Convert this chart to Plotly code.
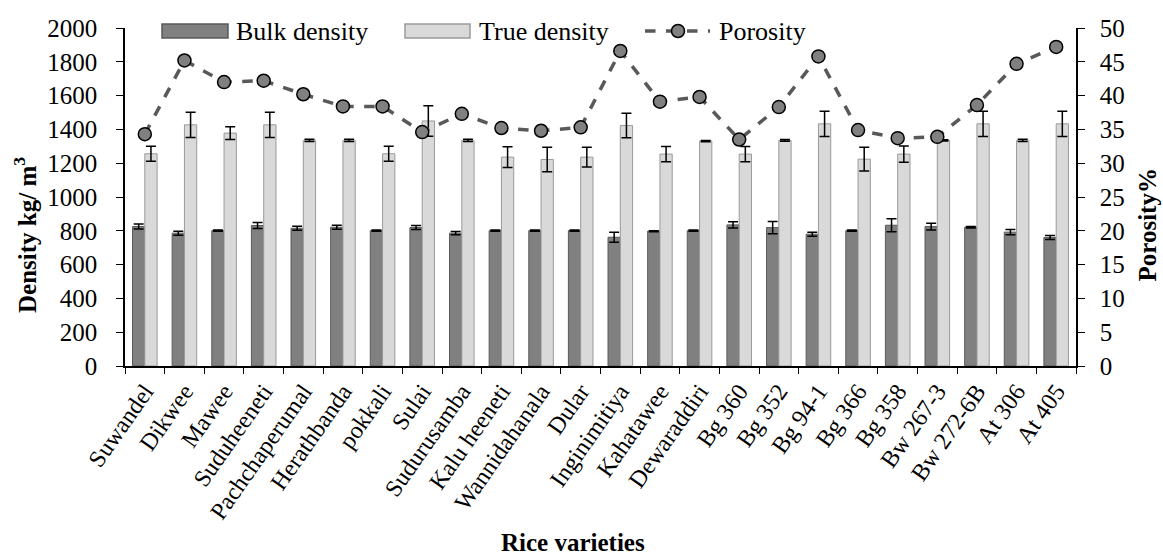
import plotly.graph_objects as go

varieties = ["Suwandel", "Dikwee", "Mawee", "Suduheeneti", "Pachchaperumal", "Herathbanda",
             "pokkali", "Sulai", "Sudurusamba", "Kalu heeneti", "Wannidahanala", "Dular",
             "Inginimitiya", "Kahatawee", "Dewaraddiri", "Bg 360", "Bg 352", "Bg 94-1",
             "Bg 366", "Bg 358", "Bw 267-3", "Bw 272-6B", "At 306", "At 405"]

bulk_density = [825, 786, 801, 831, 815, 821, 801, 819, 786, 801, 801, 801,
                762, 798, 801, 835, 819, 780, 801, 833, 825, 821, 792, 760]
bulk_err = [15, 12, 3, 18, 12, 12, 3, 12, 10, 3, 3, 3,
            30, 3, 3, 18, 36, 12, 3, 38, 20, 4, 15, 12]

true_density = [1256, 1427, 1378, 1427, 1335, 1335, 1256, 1450, 1335, 1236, 1222, 1236,
                1423, 1254, 1331, 1254, 1335, 1433, 1224, 1254, 1335, 1433, 1335, 1433]
true_err = [45, 75, 38, 75, 6, 6, 45, 90, 6, 62, 72, 58,
            72, 45, 4, 45, 5, 75, 70, 48, 4, 75, 6, 75]

porosity = [34.3, 45.2, 42.0, 42.2, 40.2, 38.4, 38.4, 34.6, 37.3, 35.2, 34.8, 35.3,
            46.6, 39.1, 39.8, 33.5, 38.3, 45.8, 34.9, 33.7, 33.9, 38.6, 44.7, 47.2]

y_ticks = list(range(0, 2001, 200))
y2_ticks = list(range(0, 51, 5))

FONT = "Liberation Serif, Times New Roman, serif"
CAT = 24
NUM = 25
TITLE = 25
LEG = 26

BULK_FILL, BULK_EDGE = "#808080", "#5a5a5a"
TRUE_FILL, TRUE_EDGE = "#d9d9d9", "#9a9a9a"
LINE_C = "#595959"

# plot area in pixels (for placing the hand-made legend and titles)
W, H = 1163, 559
L, R, T, B = 125, 87, 28, 193
PW, PH = W - L - R, H - T - B


def px(x):
    return (x - L) / PW


def py(y):
    return (H - B - y) / PH


fig = go.Figure()
fig.add_trace(go.Bar(
    x=varieties, y=bulk_density, name="Bulk density",
    marker=dict(color=BULK_FILL, line=dict(color=BULK_EDGE, width=1)),
    error_y=dict(type="data", array=bulk_err, color="black", thickness=1.5, width=5),
))
fig.add_trace(go.Bar(
    x=varieties, y=true_density, name="True density",
    marker=dict(color=TRUE_FILL, line=dict(color=TRUE_EDGE, width=1)),
    error_y=dict(type="data", array=true_err, color="black", thickness=1.5, width=5),
))
fig.add_trace(go.Scatter(
    x=varieties, y=porosity, name="Porosity", yaxis="y2", mode="lines+markers",
    line=dict(color=LINE_C, width=3.5, dash="dash"),
    marker=dict(symbol="circle", size=13, color="#808080", line=dict(color="black", width=1.5)),
))

# legend drawn by hand (wide swatches like the original)
shapes = [
    dict(type="rect", xref="paper", yref="paper", x0=px(162), x1=px(228), y0=py(38), y1=py(24),
         fillcolor=BULK_FILL, line=dict(color=BULK_EDGE, width=1.5)),
    dict(type="rect", xref="paper", yref="paper", x0=px(405), x1=px(470), y0=py(38), y1=py(24),
         fillcolor=TRUE_FILL, line=dict(color=TRUE_EDGE, width=1.5)),
    dict(type="line", xref="paper", yref="paper", x0=px(645), x1=px(710), y0=py(31), y1=py(31),
         line=dict(color=LINE_C, width=3.5, dash="dash")),
    dict(type="circle", xref="paper", yref="paper", xsizemode="pixel", ysizemode="pixel",
         xanchor=px(678), yanchor=py(31), x0=-6.5, x1=6.5, y0=-6.5, y1=6.5,
         fillcolor="#808080", line=dict(color="black", width=1.5)),
]
annotations = [
    dict(text="Bulk density", xref="paper", yref="paper", x=px(234), y=py(31),
         xanchor="left", yanchor="middle", showarrow=False, font=dict(size=LEG)),
    dict(text="True density", xref="paper", yref="paper", x=px(477), y=py(31),
         xanchor="left", yanchor="middle", showarrow=False, font=dict(size=LEG)),
    dict(text="Porosity", xref="paper", yref="paper", x=px(717), y=py(31),
         xanchor="left", yanchor="middle", showarrow=False, font=dict(size=LEG)),
    dict(text="<b>Rice varieties</b>", xref="paper", yref="paper", x=px(573), y=py(558),
         xanchor="center", yanchor="bottom", showarrow=False, font=dict(size=TITLE)),
    dict(text="<b>Density kg/ m<sup>3</sup></b>", xref="paper", yref="paper", x=px(25), y=py(235),
         xanchor="center", yanchor="middle", showarrow=False, textangle=-90,
         font=dict(size=TITLE)),
    dict(text="<b>Porosity%</b>", xref="paper", yref="paper", x=px(1162), y=py(225),
         xanchor="right", yanchor="middle", showarrow=False, textangle=-90,
         font=dict(size=TITLE)),
]

fig.update_layout(
    width=W, height=H,
    margin=dict(l=L, r=R, t=T, b=B),
    paper_bgcolor="white", plot_bgcolor="white",
    font=dict(family=FONT, size=NUM, color="black"),
    barmode="group", bargap=0.38, bargroupgap=0,
    showlegend=False,
    shapes=shapes, annotations=annotations,
    xaxis=dict(
        range=[-0.5, len(varieties) - 0.5],
        showline=True, linecolor="black", linewidth=1.5,
        ticks="outside", tickson="boundaries", ticklen=6, tickcolor="black",
        tickangle=-55, showgrid=False, tickfont=dict(size=CAT),
    ),
    yaxis=dict(
        range=[0, 2000], tickvals=y_ticks, showline=True, linecolor="black", linewidth=1.5,
        ticks="outside", ticklen=7, tickcolor="black", showgrid=False, zeroline=False,
        tickfont=dict(size=NUM), ticklabelstandoff=14,
    ),
    yaxis2=dict(
        range=[0, 50], tickvals=y2_ticks, overlaying="y", side="right",
        showline=True, linecolor="black", linewidth=1.5,
        ticks="outside", ticklen=7, tickcolor="black", showgrid=False, zeroline=False,
        tickfont=dict(size=NUM), ticklabelstandoff=10,
    ),
)

fig.write_html(
    "out.html",
    config={"displayModeBar": False},
    post_script="document.body.style.margin='0';document.body.style.overflow='hidden';",
)
